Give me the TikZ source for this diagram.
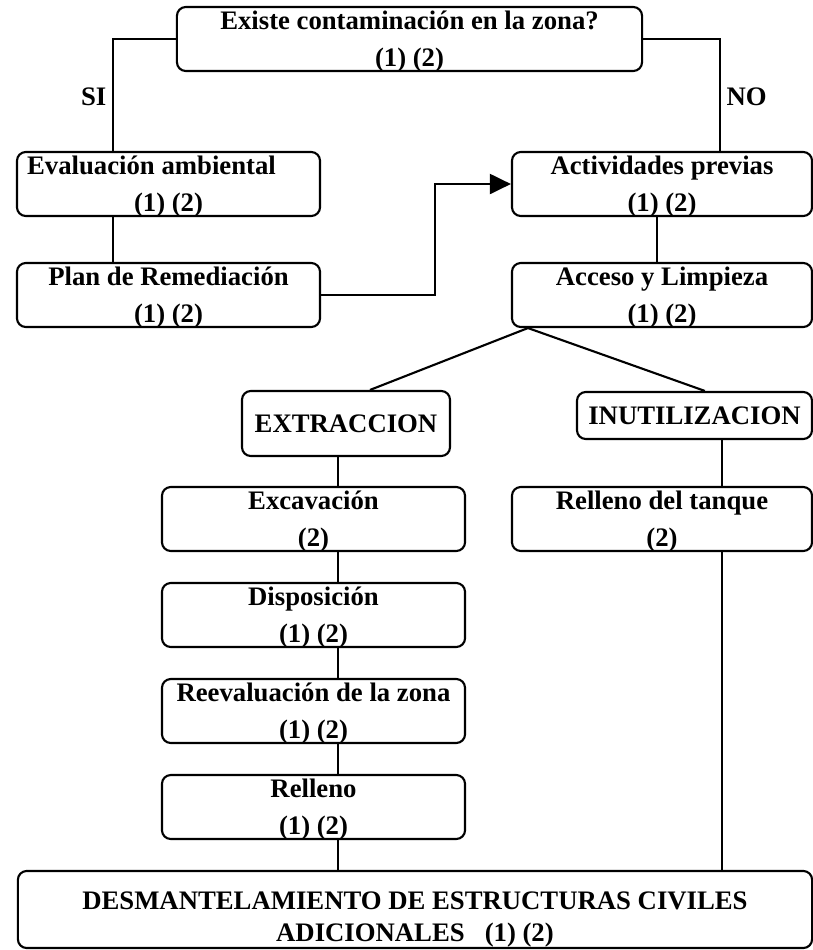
\documentclass[tikz,border=0pt]{standalone}
\usepackage{fontspec}
\setmainfont{Liberation Serif}
\usetikzlibrary{arrows.meta}

\begin{document}
\begin{tikzpicture}[x=0.025cm, y=-0.025cm, line width=1.5pt,
  caja/.style={draw, rounded corners=0.22cm, align=flush center, inner sep=0pt,
    text width=7.575cm, text height=15.65pt, text depth=29.85pt,
    font=\bfseries\fontsize{19}{26.7}\selectfont},
  rama/.style={draw, rounded corners=0.22cm, inner sep=0pt,
    font=\bfseries\fontsize{19}{23}\selectfont},
  etiqueta/.style={font=\bfseries\fontsize{19}{23}\selectfont, inner sep=4pt},
  flecha/.style={-{Triangle[length=0.525cm, width=0.5cm]}}]
\useasboundingbox (0,0) rectangle (813,950);
% cajas del diagrama
\node[caja, text width=11.625cm] (top) at (409.5,39) {Existe contaminación en la zona?\\(1) (2)};
\node[caja] (eval) at (168.5,184) {Evaluación ambiental\rule{0.85cm}{0pt}\\(1) (2)};
\node[caja] (plan) at (168.5,295) {Plan de Remediación\\(1) (2)};
\node[caja, text width=7.5cm] (prev) at (662,184) {Actividades previas\\(1) (2)};
\node[caja, text width=7.5cm] (acc) at (662,295) {Acceso y Limpieza\\(1) (2)};
\node[rama, minimum width=5.2cm, minimum height=1.625cm] (extr) at (346,423.5) {EXTRACCION};
\node[rama, minimum width=5.875cm, minimum height=1.175cm] (inut) at (694.5,415.5) {INUTILIZACION};
\node[caja] (exc) at (313.5,519) {Excavación\\(2)};
\node[caja, text width=7.5cm] (rtan) at (662,519) {Relleno del tanque\\(2)};
\node[caja] (disp) at (313.5,615) {Disposición\\(1) (2)};
\node[caja] (reev) at (313.5,711) {Reevaluación de la zona\\(1) (2)};
\node[caja] (rell) at (313.5,807) {Relleno\\(1) (2)};
\node[caja, text width=19.85cm, text height=27.7pt, text depth=27.1pt,
  font=\bfseries\fontsize{19}{22.8}\selectfont] (desm) at (415,909.5)
  {DESMANTELAMIENTO DE ESTRUCTURAS CIVILES\\ADICIONALES\ \ \ (1) (2)};
% lineas verticales
\coordinate (si) at (113,0);
\coordinate (no) at (720,0);
\coordinate (bajada) at (338,0);
\coordinate (tanque) at (722,0);
\draw (top.west) -| node[etiqueta, pos=0.76, left] {SI} (si |- eval.north);
\draw (si |- eval.south) -- (si |- plan.north);
\draw (top.east) -| node[etiqueta, pos=0.76, right] {NO} (no |- prev.north);
\draw ([xshift=-0.125cm]prev.south) -- ([xshift=-0.125cm]acc.north);
\draw[flecha] (plan.east) -- ++(114,0) |- (prev.west);
% bifurcacion
\coordinate (rama) at ([xshift=-3.35cm]acc.south);
\draw ([xshift=0.6cm]extr.north) -- (rama) -- ([xshift=0.26cm]inut.north);
\draw (bajada |- extr.south) -- (bajada |- exc.north);
\draw (bajada |- exc.south) -- (bajada |- disp.north);
\draw (bajada |- disp.south) -- (bajada |- reev.north);
\draw (bajada |- reev.south) -- (bajada |- rell.north);
\draw (bajada |- rell.south) -- (bajada |- desm.north);
\draw (tanque |- inut.south) -- (tanque |- rtan.north);
\draw (tanque |- rtan.south) -- (tanque |- desm.north);
\end{tikzpicture}
\end{document}
